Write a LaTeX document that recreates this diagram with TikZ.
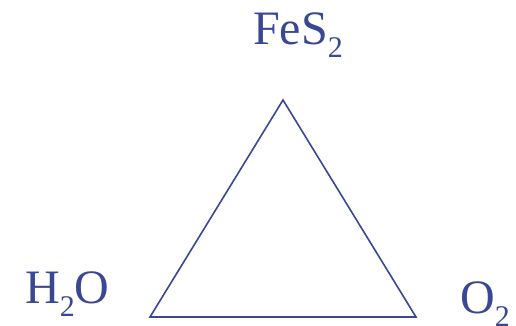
\documentclass[tikz,border=0pt]{standalone}
\usepackage{fontspec}
\setmainfont{Liberation Serif}
\usetikzlibrary{positioning}
\definecolor{mynavy}{HTML}{3A4795}
\newcommand{\lowsub}[1]{\raisebox{-13pt}{\fontsize{30}{30}\selectfont #1}}
\tikzset{
	speciesnode/.style={
			anchor=base west,
			inner sep=0pt,
			text=mynavy,
			font=\fontsize{48}{52}\selectfont
		},
	sideline/.style={
			draw=mynavy,
			line width=1.6pt,
			line join=miter
		}
}
\begin{document}
\begin{tikzpicture}[x=1pt, y=-1pt]
\useasboundingbox (0,0) rectangle (516,325);
\coordinate (top) at (283,100);
\coordinate (left) at (150,317);
\coordinate (right) at (416,317);

\node[speciesnode] (fes2) at (253,44) {FeS\lowsub{2}};
\node[speciesnode] (h2o) at (25,303) {H\lowsub{2}O};
\node[speciesnode] (o2) at (460,313) {O\lowsub{2}};

\draw[sideline] (top) -- (left) -- (right) -- cycle;
\end{tikzpicture}
\end{document}
